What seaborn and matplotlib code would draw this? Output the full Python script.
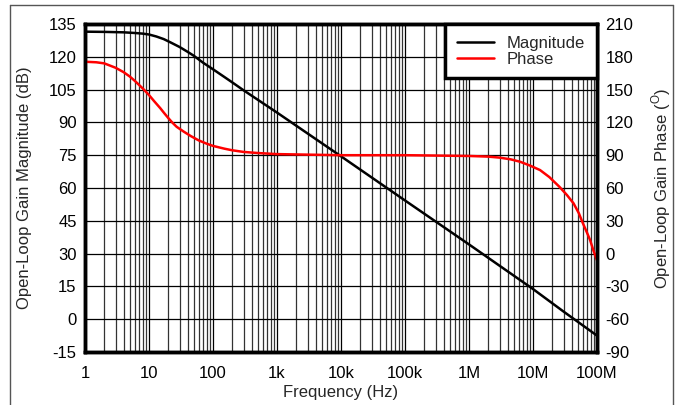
import numpy as np
import pandas as pd
import matplotlib
matplotlib.use("Agg")
import matplotlib.pyplot as plt
import seaborn as sns
from matplotlib.ticker import FixedLocator, NullFormatter, LogLocator
from matplotlib.lines import Line2D

# values
mag_freq = [1, 2, 4, 6, 8, 10, 13, 17, 22, 30, 40, 50, 70, 100, 150, 200, 300,
            1e3, 1e4, 1e5, 1e6, 1e7, 3e7, 1e8]
mag_db = [131.5, 131.4, 131.2, 130.9, 130.6, 130.2, 129.3, 128.1, 126.5, 124.5,
          122.3, 120.5, 117.3, 114.3, 110.8, 108.3, 104.7, 94.5, 74.5, 54.3,
          34.2, 13.8, 3.5, -7.5]

ph_freq = [1, 1.5, 2, 3, 4, 5, 6, 8, 10, 12, 15, 17, 20, 23, 27, 35, 45, 60, 80,
           100, 150, 200, 300, 500, 1e3, 1e4, 1e5, 1e6, 2e6, 3e6, 4.5e6, 6.3e6,
           9e6, 1.29e7, 1.8e7, 2.6e7, 3.4e7, 4.3e7, 5.2e7, 6e7, 7e7, 7.8e7, 8.9e7, 1e8]
ph_deg = [175.5, 175, 174, 170, 166, 162, 158, 151, 145, 139.5, 133, 129, 124,
          120, 116, 111.5, 107.5, 103.5, 100.5, 98.5, 96, 94.5, 93, 92, 91, 90,
          90, 89.3, 88.7, 87.8, 86.2, 84, 80.5, 76.4, 70, 61, 53.5, 46, 37, 28,
          19, 12.4, 2, -6]

x_ticks = [1, 10, 100, 1e3, 1e4, 1e5, 1e6, 1e7, 1e8]
x_labels = ["1", "10", "100", "1k", "10k", "100k", "1M", "10M", "100M"]
mag_ticks = list(range(-15, 136, 15))
ph_ticks = list(range(-90, 211, 30))

mag = pd.DataFrame({"f": mag_freq, "v": mag_db})
ph = pd.DataFrame({"f": ph_freq, "v": ph_deg})

sns.set_style("white")
plt.rcParams["font.family"] = ["Liberation Sans", "DejaVu Sans"]
plt.rcParams["mathtext.fontset"] = "custom"
plt.rcParams["mathtext.rm"] = "Liberation Sans"
plt.rcParams["axes.unicode_minus"] = False

fig = plt.figure(figsize=(6.78, 4.05), dpi=100)
ax = fig.add_axes([0.1254, 0.1309, 0.7551, 0.8098])
ax2 = ax.twinx()

sns.lineplot(data=mag, x="f", y="v", ax=ax, color="black", lw=1.8, label="Magnitude", legend=False)
sns.lineplot(data=ph, x="f", y="v", ax=ax2, color="red", lw=1.8, label="Phase", legend=False)

ax.set_xscale("log")
ax.set_xlim(1, 1e8)
ax.set_ylim(-15, 135)
ax2.set_ylim(-90, 210)
ax.xaxis.set_major_locator(FixedLocator(x_ticks))
ax.set_xticklabels(x_labels)
ax.xaxis.set_minor_locator(LogLocator(base=10, subs=np.arange(2, 10), numticks=20))
ax.xaxis.set_minor_formatter(NullFormatter())
ax.set_yticks(mag_ticks)
ax2.set_yticks(ph_ticks)

ax.grid(True, which="major", axis="both", color="black", lw=0.9)
ax.grid(True, which="minor", axis="x", color="#333333", lw=0.9)
ax2.grid(False)

for a in (ax, ax2):
    a.tick_params(axis="both", which="both", length=0, labelsize=12, pad=6, colors="black")
    for s in a.spines.values():
        s.set_linewidth(2.5)
        s.set_color("black")
ax.tick_params(axis="x", pad=10)

ax.set_xlabel("Frequency (Hz)", fontsize=12, labelpad=3)
ax.set_ylabel("Open-Loop Gain Magnitude (dB)", fontsize=12, labelpad=12)
ax2.set_ylabel(r"Open-Loop Gain Phase ($^{\mathrm{O}}$)", fontsize=12, labelpad=12)

handles = [Line2D([], [], color="black", lw=1.8), Line2D([], [], color="red", lw=1.8)]
leg = ax2.legend(handles, ["Magnitude", "Phase"], loc="upper right", fontsize=12,
                 fancybox=False, framealpha=1, edgecolor="black", borderaxespad=0,
                 handlelength=2.2, labelspacing=0.05, borderpad=0.7)
leg.get_frame().set_linewidth(2.5)

# outer frame of the original figure
for xs, ys in [([0.015, 0.015], [0, 0.988]), ([0.015, 0.993], [0.988, 0.988]),
               ([0.993, 0.993], [0, 0.988])]:
    fig.add_artist(Line2D(xs, ys, transform=fig.transFigure, color="#555555", lw=1))

fig.savefig("out.png", dpi=100)
